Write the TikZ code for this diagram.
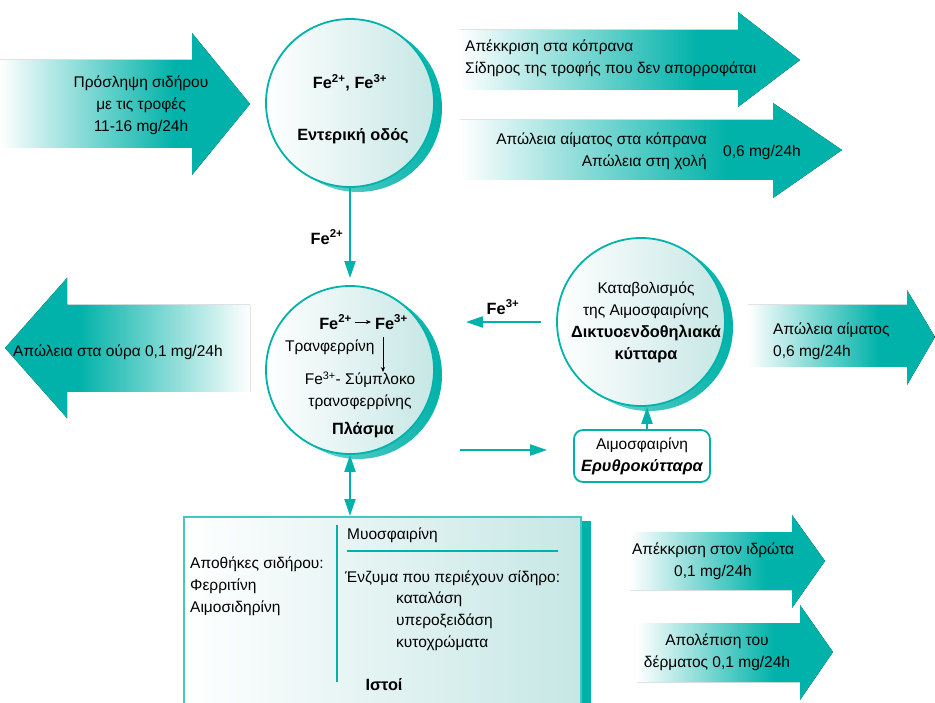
\documentclass[tikz,border=0pt]{standalone}
\usepackage{fontspec}
\setmainfont{Liberation Sans}
\usetikzlibrary{arrows.meta,shadows,calc}

\definecolor{teal0}{RGB}{0,178,169}
\definecolor{tealfill}{RGB}{198,231,229}
\definecolor{tealedge}{RGB}{70,198,192}

% fades for the block arrows: white tail, solid teal towards the head
\pgfdeclarehorizontalshading{fadeR}{100bp}{color(0bp)=(white); color(25bp)=(white); color(60bp)=(teal0); color(100bp)=(teal0)}
\pgfdeclarehorizontalshading{fadeL}{100bp}{color(0bp)=(teal0); color(40bp)=(teal0); color(75bp)=(white); color(100bp)=(white)}

\newcommand\chg[1]{\textsuperscript{#1}}

\tikzset{
  txt/.style={font=\fontsize{15.5}{22}\selectfont},
  btxt/.style={font=\fontsize{16.3}{22}\selectfont\bfseries},
  every node/.append style={inner sep=0pt, txt},
  cell/.style={circle, draw=teal0, line width=1.8pt, left color=white, right color=tealfill,
    minimum size=168pt,
    general shadow={left color=teal0!45, right color=teal0, shadow xshift=8pt, shadow yshift=-5pt}},
  conn/.style={draw=teal0, line width=2pt, -{Triangle[length=17pt,width=11pt]}},
  biconn/.style={draw=teal0, line width=2pt, {Triangle[length=17pt,width=11pt]}-{Triangle[length=17pt,width=11pt]}},
  smallarrow/.style={draw=black, line width=0.7pt, -{Stealth[length=5pt,width=4pt]}},
  fadeRight/.style={shading=fadeR},
  fadeLeft/.style={shading=fadeL},
}

\begin{document}
\begin{tikzpicture}[x=1pt,y=-1pt]
\useasboundingbox (0,0) rectangle (935,703);

% ---------- block arrows ----------
\fill[fadeRight] (0,60) -- (192,60) -- (192,33) -- (250,104) -- (192,175) -- (192,148) -- (0,148) -- cycle;
\fill[fadeRight] (460,30) -- (738,30) -- (738,12) -- (800,60) -- (738,107) -- (738,90) -- (460,90) -- cycle;
\fill[fadeRight] (460,120) -- (773,120) -- (773,103) -- (842,150) -- (773,198) -- (773,180) -- (460,180) -- cycle;
\fill[fadeLeft] (250,305) -- (67,305) -- (67,278) -- (5,348) -- (67,418) -- (67,392) -- (250,392) -- cycle;
\fill[fadeRight] (748,305) -- (907,305) -- (907,290) -- (935,337) -- (907,385) -- (907,367) -- (748,367) -- cycle;
\fill[fadeRight] (630,532) -- (792,532) -- (792,515) -- (825,561) -- (792,608) -- (792,590) -- (630,590) -- cycle;
\fill[fadeRight] (637,623) -- (800,623) -- (800,605) -- (833,652) -- (800,700) -- (800,682) -- (637,682) -- cycle;

\node[align=center] (intake) at (141,105) {Πρόσληψη σιδήρου\\με τις τροφές\\11-16 mg/24h};
\node[align=left, anchor=west] (stool) at (465,58.5) {Απέκκριση στα κόπρανα\\Σίδηρος της τροφής που δεν απορροφάται};
\node[align=right, anchor=east] (bile) at (707,151) {Απώλεια αίματος στα κόπρανα\\Απώλεια στη χολή};
\node[anchor=west] (bileAmt) at (723,152) {0,6 mg/24h};
\node[anchor=west] (urine) at (13,352) {Απώλεια στα ούρα 0,1 mg/24h};
\node[align=left, anchor=west] (blood) at (773,341) {Απώλεια αίματος\\0,6 mg/24h};
\node[align=center] (sweat) at (713,561) {Απέκκριση στον ιδρώτα\\0,1 mg/24h};
\node[align=center] (skin) at (717,652) {Απολέπιση του\\δέρματος 0,1 mg/24h};

% ---------- compartments ----------
\node[cell] (gut) at (350,103) {};
\node[btxt] (gutIons) at (350,83) {Fe\chg{2+}, Fe\chg{3+}};
\node[btxt] (gutName) at (353,136) {Εντερική οδός};

\node[cell] (plasma) at (350,370) {};
\node[btxt, anchor=east] (fe2) at (352,322) {Fe\chg{2+}};
\node[btxt, anchor=west] (fe3) at (375,322) {Fe\chg{3+}};
\draw[smallarrow] ([xshift=3pt]fe2.east) -- ([xshift=-4pt]fe3.west);
\node[anchor=west] (tf) at (285,347) {Τρανφερρίνη};
\coordinate (tfTop) at (383,337);
\coordinate (tfBot) at (383,372);
\draw[smallarrow] (tfTop) -- (tfBot);
\node[align=center] (complex) at (360,391) {Fe\chg{3+}- Σύμπλοκο\\τρανσφερρίνης};
\node[btxt] (plasmaName) at (363,430) {Πλάσμα};

\node[cell] (re) at (641,322) {};
\node[align=center] (reText) at (646,322) {Καταβολισμός\\της Αιμοσφαιρίνης\\{\fontsize{16.3}{22}\selectfont\bfseries Δικτυοενδοθηλιακά}\\{\fontsize{16.3}{22}\selectfont\bfseries κύτταρα}};

\node[draw=teal0, line width=1.8pt, rounded corners=9pt, fill=white,
      minimum width=136pt, minimum height=52pt, align=center] (hb) at (642,456)
      {Αιμοσφαιρίνη\\{\fontsize{16.3}{22}\selectfont\bfseries\itshape Ερυθροκύτταρα}};

% tissue panel with its solid offset shadow
\fill[teal0] (193,521) rectangle (591,712);
\node[draw=tealedge, line width=1.5pt, left color=white, right color=tealfill,
      minimum width=397pt, minimum height=190pt, anchor=north west] (tissue) at (183,516) {};
\coordinate (divTop) at (337,525);
\coordinate (divBot) at (337,682);
\draw[teal0, line width=1.6pt] (divTop) -- (divBot);
\coordinate (ruleL) at (347,551);
\coordinate (ruleR) at (558,551);
\draw[teal0, line width=1.6pt] (ruleL) -- (ruleR);
\node[anchor=west] (myo) at (347,535) {Μυοσφαιρίνη};
\node[align=left, anchor=west] (stores) at (190,586) {Αποθήκες σιδήρου:\\Φερριτίνη\\Αιμοσιδηρίνη};
\node[anchor=west] (enz) at (345,578) {Ένζυμα που περιέχουν σίδηρο:};
\node[align=left, anchor=west] (enzList) at (396,621) {καταλάση\\υπεροξειδάση\\κυτοχρώματα};
\node[btxt] (tissueName) at (384,685) {Ιστοί};

% ---------- connectors ----------
\draw[conn, shorten >=7pt] (gut.south) -- (plasma.north);
\node[btxt] (labFe2) at (327,237) {Fe\chg{2+}};

\draw[conn, shorten <=15pt, shorten >=31pt] (re.west) -- (re.west -| plasma.east);
\node[btxt] (labFe3) at (503,307) {Fe\chg{3+}};

\coordinate (toHb) at (460,450);
\draw[conn, shorten >=26pt] (toHb) -- (toHb -| hb.west);

\draw[conn] ([xshift=5pt]hb.north) -- ([xshift=5pt]hb.north |- re.south);

\draw[biconn] (plasma.south) -- (plasma.south |- tissue.north);

\end{tikzpicture}
\end{document}
